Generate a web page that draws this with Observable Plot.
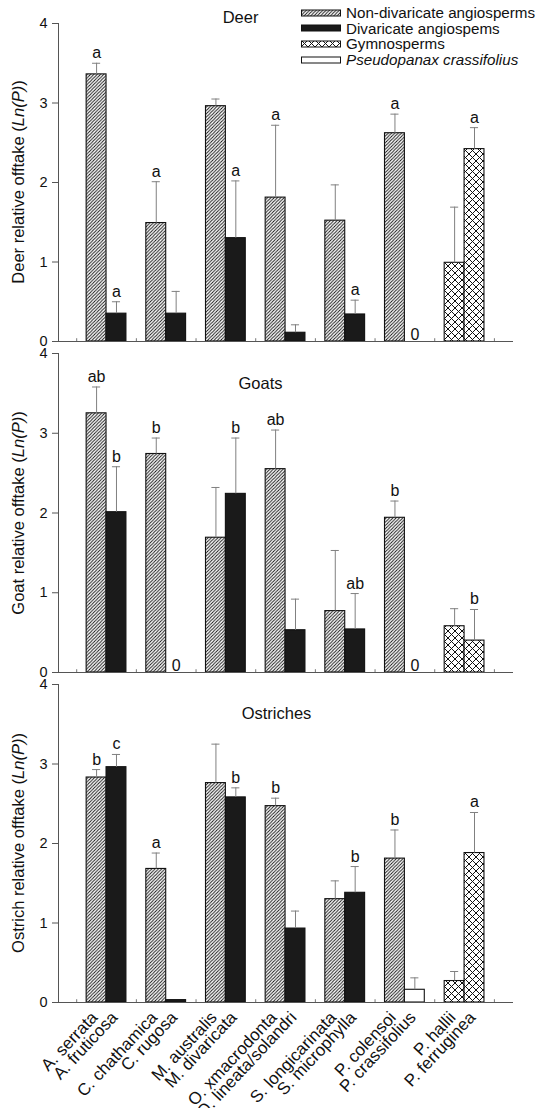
<!DOCTYPE html>
<html>
<head>
<meta charset="utf-8">
<script src="https://cdn.jsdelivr.net/npm/d3@7"></script>
<script src="https://cdn.jsdelivr.net/npm/@observablehq/plot@0.6"></script>
<style>
  html, body { margin: 0; padding: 0; background: white; }
  #chart { position: relative; width: 538px; height: 1108px; background: white; font-family: "Liberation Sans", Arial, sans-serif; color: #111; overflow: hidden; }
  #chart svg.panel { position: absolute; left: 0; overflow: visible; }
  .ytitle { position: absolute; transform: translate(-50%, -50%) rotate(-90deg); white-space: nowrap; font-size: 16.5px; }
  .legend { position: absolute; left: 301px; top: 5px; font-size: 15.2px; line-height: 15.6px; }
  .legend div { display: flex; align-items: center; white-space: nowrap; }
  .legend svg { margin-right: 5px; }
</style>
</head>
<body>
<svg width="0" height="0" style="position:absolute">
  <defs>
    <pattern id="hatch" patternUnits="userSpaceOnUse" width="3.3" height="3.3">
      <path d="M-0.825,0.825 L0.825,-0.825 M0,3.3 L3.3,0 M2.475,4.125 L4.125,2.475" stroke="#111" stroke-width="0.95"/>
    </pattern>
    <pattern id="cross" patternUnits="userSpaceOnUse" width="7" height="7">
      <rect width="7" height="7" fill="white"/>
      <path d="M0,0 L7,7 M7,0 L0,7" stroke="#111" stroke-width="1"/>
    </pattern>
  </defs>
</svg>
<div id="chart"></div>
<script>
// ---------- data ----------
const species = ["A. serrata", "A. fruticosa", "C. chathamica", "C. rugosa", "M. australis", "M. divaricata",
  "O. xmacrodonta", "O. lineata/solandri", "S. longicarinata", "S. microphylla", "P. colensoi", "P. crassifolius",
  "P. hallii", "P. ferruginea"];
const plantTypes = ["non", "div", "non", "div", "non", "div", "non", "div", "non", "div", "non", "pc", "gym", "gym"];

const deerMean = [3.36, 0.35, 1.49, 0.35, 2.96, 1.30, 1.81, 0.11, 1.52, 0.34, 2.62, 0, 0.99, 2.42];
const deerSE   = [0.14, 0.15, 0.52, 0.28, 0.09, 0.72, 0.91, 0.10, 0.45, 0.18, 0.24, 0, 0.70, 0.27];
const deerLetters = ["a", "a", "a", "", "", "a", "a", "", "", "a", "a", "", "", "a"];

const goatMean = [3.25, 2.01, 2.74, 0, 1.69, 2.24, 2.55, 0.53, 0.77, 0.54, 1.94, 0, 0.58, 0.40];
const goatSE   = [0.33, 0.57, 0.20, 0, 0.63, 0.70, 0.49, 0.39, 0.76, 0.45, 0.21, 0, 0.22, 0.39];
const goatLetters = ["ab", "b", "b", "", "", "b", "ab", "", "", "ab", "b", "", "", "b"];

const ostrichMean = [2.83, 2.96, 1.68, 0.03, 2.76, 2.58, 2.47, 0.93, 1.30, 1.38, 1.81, 0.16, 0.27, 1.88];
const ostrichSE   = [0.10, 0.16, 0.20, 0, 0.49, 0.12, 0.10, 0.22, 0.23, 0.33, 0.36, 0.15, 0.12, 0.51];
const ostrichLetters = ["b", "c", "a", "", "", "b", "b", "", "", "b", "b", "", "", "a"];

const yTicks = [0, 1, 2, 3, 4];
const legendItems = [
  {type: "non", label: "Non-divaricate angiosperms", italic: false},
  {type: "div", label: "Divaricate angiospems", italic: false},
  {type: "gym", label: "Gymnosperms", italic: false},
  {type: "pc", label: "Pseudopanax crassifolius", italic: true}
];

// ---------- styling ----------
const fills = {non: "url(#hatch)", div: "#1a1a1a", gym: "url(#cross)", pc: "white"};
const barW = 1 / 3;     // bar width in group units
const capW = 0.068;     // half-width of error caps
const xDomain = [-0.805, 6.82];
const font = "Liberation Sans, Arial, sans-serif";

const chart = document.getElementById("chart");

function panel({means, ses, letters, title, titleDx, titleDy, yTitle, top, height, marginBottom, showX}) {
  const data = species.map((s, i) => {
    const g = Math.floor(i / 2);
    const pos = g + (i % 2 === 0 ? -barW / 2 : barW / 2);
    return {species: s, type: plantTypes[i], mean: means[i], se: ses[i], letter: letters[i], pos, group: g};
  });
  const bars = data.filter(d => d.mean > 0);
  const err = data.filter(d => d.se > 0);
  const boundaries = d3.range(8).map(i => i - 0.5);
  const marks = [];
  for (const t of ["non", "div", "gym", "pc"]) {
    marks.push(Plot.rectY(bars.filter(d => d.type === t), {
      x1: d => d.pos - barW / 2, x2: d => d.pos + barW / 2, y1: 0, y2: "mean",
      fill: fills[t], stroke: "#111", strokeWidth: 1.1
    }));
  }
  marks.push(
    Plot.ruleX(err, {x: "pos", y1: "mean", y2: d => d.mean + d.se, stroke: "#808080", strokeWidth: 1}),
    Plot.ruleY(err, {y: d => d.mean + d.se, x1: d => d.pos - capW, x2: d => d.pos + capW, stroke: "#808080", strokeWidth: 1}),
    Plot.text(data.filter(d => d.letter), {x: "pos", y: d => d.mean + d.se, text: "letter", dy: -5, lineAnchor: "bottom", fontSize: 16, fill: "#111"}),
    Plot.text(data.filter(d => d.mean === 0), {x: "pos", y: 0, text: () => "0", dy: -2, lineAnchor: "bottom", fontSize: 16, fill: "#111"}),
    Plot.ruleY([0], {stroke: "#555", strokeWidth: 1}),
    Plot.ruleX([xDomain[0]], {stroke: "#555", strokeWidth: 1}),
    Plot.ruleX(boundaries, {y1: 0, y2: 0.035, stroke: "#777", strokeWidth: 1}),
    Plot.axisY({ticks: yTicks, tickFormat: "d", tickSize: 6, tickPadding: 5, fontSize: 14.5, label: null, stroke: "#555"}),
    Plot.text([title], {frameAnchor: "top-left", dx: titleDx, dy: titleDy, text: d => d, fontSize: 16.5, textAnchor: "middle", lineAnchor: "middle", fill: "#111"})
  );
  if (showX) {
    marks.push(Plot.text(data, {x: "pos", y: 0, text: "species", rotate: -47, textAnchor: "end", lineAnchor: "middle", dy: 12, dx: -2, fontSize: 17, fill: "#111"}));
  }
  const svg = Plot.plot({
    width: 538, height, marginTop: 23, marginLeft: 58, marginRight: 25, marginBottom,
    x: {domain: xDomain, axis: null},
    y: {domain: [0, 4], axis: null},
    style: {background: "transparent", fontFamily: font, overflow: "visible"},
    marks
  });
  svg.classList.add("panel");
  svg.style.top = top + "px";
  svg.style.position = "absolute";
  chart.appendChild(svg);

  const yt = document.createElement("div");
  yt.className = "ytitle";
  yt.style.left = "18px";
  yt.style.top = (top + 23 + (height - 23 - marginBottom) / 2) + "px";
  yt.innerHTML = `${yTitle} relative offtake (<i>Ln(P)</i>)`;
  chart.appendChild(yt);
}

panel({means: deerMean, ses: deerSE, letters: deerLetters, title: "Deer", titleDx: 182, titleDy: -6,
  yTitle: "Deer", top: 0, height: 351, marginBottom: 10, showX: false});
panel({means: goatMean, ses: goatSE, letters: goatLetters, title: "Goats", titleDx: 202, titleDy: 30,
  yTitle: "Goat", top: 330, height: 352, marginBottom: 10, showX: false});
panel({means: ostrichMean, ses: ostrichSE, letters: ostrichLetters, title: "Ostriches", titleDx: 218, titleDy: 29,
  yTitle: "Ostrich", top: 661, height: 447, marginBottom: 106, showX: true});

// legend
const leg = document.createElement("div");
leg.className = "legend";
for (const item of legendItems) {
  const row = document.createElement("div");
  row.innerHTML = `<svg width="40" height="8"><rect x="0.5" y="1" width="39" height="6" fill="${fills[item.type]}" stroke="#111" stroke-width="1"/></svg>` +
    (item.italic ? `<i>${item.label}</i>` : `<span>${item.label}</span>`);
  leg.appendChild(row);
}
chart.appendChild(leg);
</script>
</body>
</html>
